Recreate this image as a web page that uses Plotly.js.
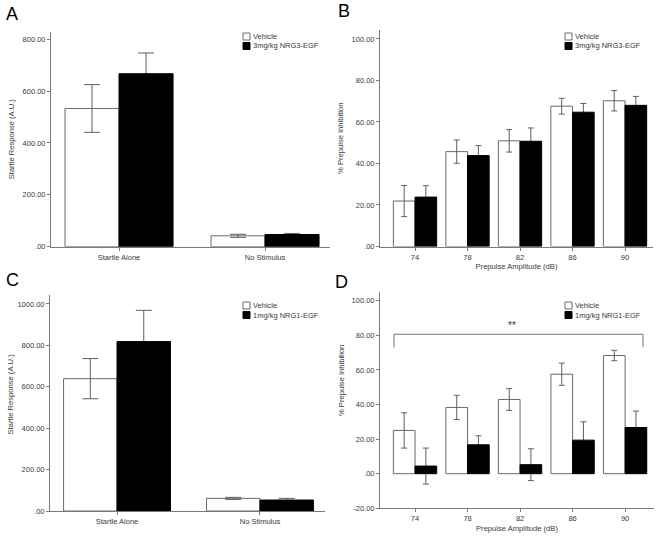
<!DOCTYPE html>
<html>
<head>
<meta charset="utf-8">
<script src="https://cdn.plot.ly/plotly-3.0.1.min.js"></script>
<style>html,body{margin:0;padding:0;background:#fff;}#chart{width:663px;height:540px;}</style>
</head>
<body>
<div id="chart"></div>
<script>
// ---------- data ----------
const startleCats = ['Startle Alone', 'No Stimulus'];
const ppiCats = ['74', '78', '82', '86', '90'];

const seriesNames = ['Vehicle', '3mg/kg NRG3-EGF', '1mg/kg NRG1-EGF'];

// Panel A (NRG3-EGF, startle)
const aVehicle = [533, 42];
const aVehicleErr = [92, 6];
const aDrug = [667, 47];
const aDrugErr = [80, 4];

// Panel B (NRG3-EGF, PPI)
const bVehicle = [21.9, 45.7, 50.9, 67.6, 70.2];
const bVehicleErr = [7.5, 5.6, 5.4, 3.8, 4.9];
const bDrug = [23.8, 43.8, 50.7, 64.7, 68.0];
const bDrugErr = [5.5, 4.8, 6.4, 4.2, 4.3];

// Panel C (NRG1-EGF, startle)
const cVehicle = [639, 61];
const cVehicleErr = [97, 5];
const cDrug = [818, 53];
const cDrugErr = [151, 8];

// Panel D (NRG1-EGF, PPI)
const dVehicle = [25.0, 38.3, 42.9, 57.5, 68.3];
const dVehicleErr = [10.2, 7.0, 6.3, 6.4, 3.0];
const dDrug = [4.4, 16.7, 5.2, 19.4, 26.7];
const dDrugErr = [10.4, 5.2, 9.2, 10.6, 9.5];

// tick labels
const startleTicksA = [0, 200, 400, 600, 800];
const startleTickTextA = ['.00', '200.00', '400.00', '600.00', '800.00'];
const startleTicksC = [0, 200, 400, 600, 800, 1000];
const startleTickTextC = ['.00', '200.00', '400.00', '600.00', '800.00', '1000.00'];
const ppiTicksB = [0, 20, 40, 60, 80, 100];
const ppiTickTextB = ['.00', '20.00', '40.00', '60.00', '80.00', '100.00'];
const ppiTicksD = [-20, 0, 20, 40, 60, 80, 100];
const ppiTickTextD = ['-20.00', '.00', '20.00', '40.00', '60.00', '80.00', '100.00'];

const panelLetters = ['A', 'B', 'C', 'D'];
const startleTitle = 'Startle Response (A.U.)';
const ppiTitle = '% Prepulse Inhibition';
const ampTitle = 'Prepulse Amplitude (dB)';
const sigText = '**';

// ---------- styling / layout helpers ----------
const W = 663, H = 540;
const px = x => x / W;
const py = y => 1 - y / H;
const FONT = 'Liberation Sans, Arial, sans-serif';
const AXIS_COLOR = '#7a7a7a';
const ERR_COLOR = '#5f5f5f';
const OUTLINE = '#6a6a6a';

function barSet(cats, veh, vehErr, drug, drugErr, xa, ya, w, capW) {
  return [
    { // drug error bars drawn underneath the drug bars
      type: 'bar', x: cats, y: drug, xaxis: xa, yaxis: ya,
      offset: 0, width: w,
      marker: { color: 'rgba(0,0,0,0)', line: { width: 0 } },
      error_y: { type: 'data', array: drugErr, visible: true, color: ERR_COLOR, thickness: 1, width: capW },
      showlegend: false, hoverinfo: 'skip'
    },
    {
      type: 'bar', x: cats, y: veh, xaxis: xa, yaxis: ya,
      offset: -w, width: w,
      marker: { color: '#ffffff', line: { color: OUTLINE, width: 1 } },
      error_y: { type: 'data', array: vehErr, visible: true, color: ERR_COLOR, thickness: 1, width: capW },
      showlegend: false
    },
    {
      type: 'bar', x: cats, y: drug, xaxis: xa, yaxis: ya,
      offset: 0, width: w,
      marker: { color: '#000000', line: { color: '#000000', width: 1 } },
      showlegend: false
    }
  ];
}

const data = [].concat(
  barSet(startleCats, aVehicle, aVehicleErr, aDrug, aDrugErr, 'x', 'y', 0.37, 8),
  barSet(ppiCats, bVehicle, bVehicleErr, bDrug, bDrugErr, 'x2', 'y2', 0.4125, 3),
  barSet(startleCats, cVehicle, cVehicleErr, cDrug, cDrugErr, 'x3', 'y3', 0.374, 8),
  barSet(ppiCats, dVehicle, dVehicleErr, dDrug, dDrugErr, 'x4', 'y4', 0.4125, 3)
);

const tickFont = { family: FONT, size: 7.5, color: '#3a3a3a' };
const titleFont = { family: FONT, size: 7.6, color: '#3a3a3a' };

function xAxis(domain, range, anchor, title) {
  const ax = {
    domain: domain, range: range, anchor: anchor, type: 'category',
    showline: true, linecolor: AXIS_COLOR, linewidth: 1,
    ticks: 'outside', ticklen: 3, tickcolor: AXIS_COLOR,
    showgrid: false, zeroline: false, tickfont: tickFont, fixedrange: true
  };
  if (title) ax.title = { text: title, font: titleFont, standoff: 3 };
  return ax;
}
function yAxis(domain, range, anchor, tv, tt, title) {
  const ax = {
    domain: domain, range: range, anchor: anchor,
    showline: true, linecolor: AXIS_COLOR, linewidth: 1,
    ticks: 'outside', ticklen: 3, tickcolor: AXIS_COLOR,
    tickvals: tv, ticktext: tt,
    showgrid: false, zeroline: false, tickfont: tickFont, fixedrange: true
  };
  if (title) ax.title = { text: title, font: titleFont, standoff: 6 };
  return ax;
}

const shapes = [];
const annotations = [];

// panel letters
const letterPos = [[12, 13.5], [344, 11], [12.5, 280], [341.5, 281.5]];
panelLetters.forEach((L, i) => {
  annotations.push({ text: L, xref: 'paper', yref: 'paper', x: px(letterPos[i][0]), y: py(letterPos[i][1]),
    xanchor: 'center', yanchor: 'middle', showarrow: false, font: { family: FONT, size: 18, color: '#000' } });
});

// y titles of the lower panels (placed where the original centres them)
[[startleTitle, 9.5, 394], [ppiTitle, 341, 380]].forEach(t => {
  annotations.push({ text: t[0], xref: 'paper', yref: 'paper', x: px(t[1]), y: py(t[2]), textangle: -90,
    xanchor: 'center', yanchor: 'middle', showarrow: false, font: titleFont });
});

// legends (box + text)
function legend(x0, y0, drugName) {
  const entries = [[seriesNames[0], '#ffffff', OUTLINE, y0], [drugName, '#000000', '#000000', y0 + 9.5]];
  entries.forEach(e => {
    shapes.push({ type: 'rect', xref: 'paper', yref: 'paper', x0: px(x0), x1: px(x0 + 7), y0: py(e[3] - 3.5), y1: py(e[3] + 3.5),
      fillcolor: e[1], line: { color: e[2], width: 1 } });
    annotations.push({ text: e[0], xref: 'paper', yref: 'paper', x: px(x0 + 8), y: py(e[3]), xanchor: 'left', yanchor: 'middle',
      showarrow: false, font: { family: FONT, size: 7.5, color: '#3a3a3a' } });
  });
}
legend(243, 36.5, seriesNames[1]);
legend(565, 36.5, seriesNames[1]);
legend(243, 305.5, seriesNames[2]);
legend(565, 305.5, seriesNames[2]);

// significance bracket in panel D
const bracketX = [-0.4, 4.34];
const bracketY = [73, 80.6];
shapes.push({ type: 'path', xref: 'x4', yref: 'y4',
  path: `M ${bracketX[0]},${bracketY[0]} L ${bracketX[0]},${bracketY[1]} L ${bracketX[1]},${bracketY[1]} L ${bracketX[1]},${bracketY[0]}`,
  line: { color: '#707070', width: 1 } });
annotations.push({ text: sigText, xref: 'x4', yref: 'y4', x: 1.85, y: 81.2, xanchor: 'center', yanchor: 'bottom',
  showarrow: false, font: { family: FONT, size: 10, color: '#333' } });

const layout = {
  width: W, height: H,
  margin: { l: 0, r: 0, t: 0, b: 0, pad: 0 },
  paper_bgcolor: '#ffffff', plot_bgcolor: 'rgba(0,0,0,0)',
  barmode: 'overlay', showlegend: false,
  xaxis: xAxis([px(51), px(330)], [-0.466, 1.445], 'y'),
  yaxis: yAxis([py(246.7), py(31.7)], [0, 829], 'x', startleTicksA, startleTickTextA, startleTitle),
  xaxis2: xAxis([px(380), px(653)], [-0.667, 4.533], 'y2', ampTitle),
  yaxis2: yAxis([py(246.5), py(30)], [0, 104.3], 'x2', ppiTicksB, ppiTickTextB, ppiTitle),
  xaxis3: xAxis([px(50), px(325)], [-0.469, 1.455], 'y3'),
  yaxis3: yAxis([py(511), py(295)], [0, 1043], 'x3', startleTicksC, startleTickTextC, null),
  xaxis4: xAxis([px(380), px(654)], [-0.667, 4.55], 'y4', ampTitle),
  yaxis4: yAxis([py(508.3), py(291.7)], [-20, 105.2], 'x4', ppiTicksD, ppiTickTextD, null),
  shapes: shapes, annotations: annotations,
  font: { family: FONT }
};

Plotly.newPlot('chart', data, layout, { displayModeBar: false, staticPlot: true });
</script>
</body>
</html>
